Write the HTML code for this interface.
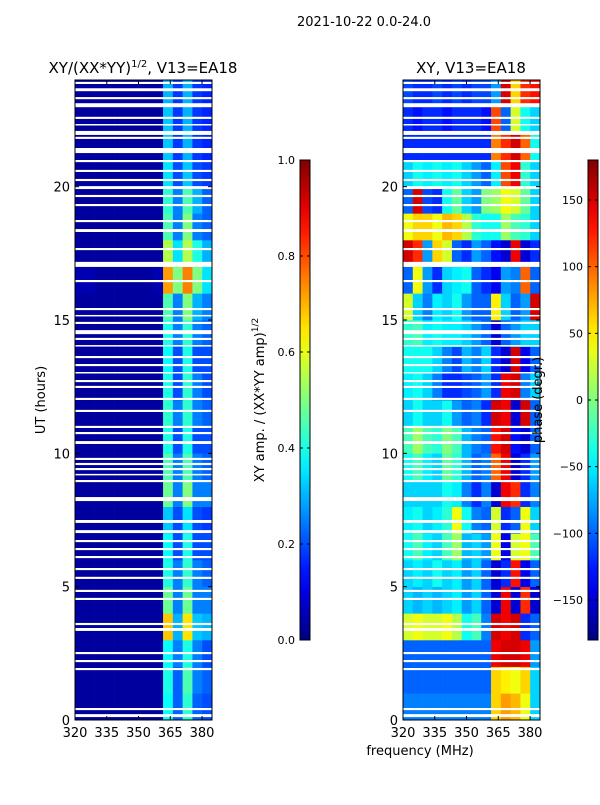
<!DOCTYPE html>
<html><head><meta charset="utf-8"><style>
body{margin:0;background:#fff;width:600px;height:800px;overflow:hidden;font-family:"Liberation Sans","DejaVu Sans",sans-serif}
svg text{font-family:"DejaVu Sans","Liberation Sans",sans-serif;fill:#000}
</style></head><body>
<svg id="fig" width="600" height="800" xmlns="http://www.w3.org/2000/svg">
<text x="364" y="26" font-size="13" text-anchor="middle">2021-10-22 0.0-24.0</text>
<text x="143" y="73" font-size="15" text-anchor="middle">XY/(XX*YY)<tspan font-size="10" dy="-6">1/2</tspan><tspan dy="6">, V13=EA18</tspan></text>
<text x="471" y="73" font-size="15" text-anchor="middle">XY, V13=EA18</text>
<text transform="translate(45,400) rotate(-90)" font-size="13" text-anchor="middle">UT (hours)</text>
<text x="420" y="755" font-size="13" text-anchor="middle">frequency (MHz)</text>
<text transform="translate(264,400) rotate(-90)" font-size="13" text-anchor="middle">XY amp. / (XX*YY amp)<tspan font-size="9" dy="-6">1/2</tspan></text>
<g id="lp"></g>
<g id="rp"></g>
<g id="cb1"></g>
<g id="cb2"></g>
<text transform="translate(542,400) rotate(-90)" font-size="13" text-anchor="middle">phase (degr.)</text>
</svg>
<script>
const freqMin=320, freqMax=384.7, nCols=14;
const xTicks=[320,335,350,365,380];
const yTicks=[0,5,10,15,20];
const ampTicks=[0.0,0.2,0.4,0.6,0.8,1.0];
const phaseTicks=[-150,-100,-50,0,50,100,150];
const D=0.03;
const ampRows=[
[D,D,D,D,D,D,D,D,D,0.38,0.22,0.42,0.22,0.2],
[D,D,D,D,D,D,D,D,D,0.4,0.22,0.45,0.25,0.22],
[D,D,D,D,D,D,D,D,D,0.38,0.25,0.4,0.25,0.2],
[D,D,D,D,D,D,D,D,D,0.68,0.3,0.65,0.32,0.3],
[D,D,D,D,D,D,D,D,D,0.48,0.25,0.48,0.25,0.25],
[D,D,D,D,D,D,D,D,D,0.4,0.25,0.42,0.25,0.22],
[D,D,D,D,D,D,D,D,D,0.38,0.2,0.4,0.2,0.2],
[D,D,D,D,D,D,D,D,D,0.32,0.2,0.35,0.2,0.18],
[D,D,D,D,D,D,D,D,D,0.48,0.25,0.5,0.25,0.25],
[D,D,D,D,D,D,D,D,D,0.45,0.25,0.45,0.25,0.22],
[D,D,D,D,D,D,D,D,D,0.4,0.2,0.4,0.2,0.2],
[D,D,D,D,D,D,D,D,D,0.42,0.25,0.42,0.25,0.22],
[D,D,D,D,D,D,D,D,D,0.4,0.2,0.42,0.25,0.2],
[D,D,D,D,D,D,D,D,D,0.38,0.2,0.4,0.2,0.2],
[D,D,D,D,D,D,D,D,D,0.4,0.25,0.42,0.25,0.22],
[D,D,D,D,D,D,D,D,D,0.45,0.25,0.5,0.3,0.25],
[0.05,0.05,D,D,D,D,D,D,0.05,0.72,0.5,0.75,0.5,0.35],
[D,D,D,D,D,D,D,D,D,0.55,0.35,0.55,0.4,0.3],
[D,D,D,D,D,D,D,D,D,0.45,0.25,0.5,0.25,0.22],
[D,D,D,D,D,D,D,D,D,0.42,0.25,0.45,0.3,0.22],
[D,D,D,D,D,D,D,D,D,0.35,0.2,0.32,0.2,0.18],
[D,D,D,D,D,D,D,D,D,0.32,0.18,0.3,0.18,0.16],
[D,D,D,D,D,D,D,D,D,0.32,0.18,0.3,0.18,0.16],
[D,D,D,D,D,D,D,D,D,0.3,0.18,0.3,0.18,0.16]];
const phaseRows=[
[-90,-90,-90,-90,-90,-90,-90,-90,-90,60,80,70,40,-60],
[-100,-100,-100,-100,-100,-100,-100,-100,-100,60,50,40,60,-60],
[-100,-100,-100,-100,-100,-100,-100,-100,-100,140,150,150,140,-80],
[30,40,30,30,40,20,-40,-20,-90,150,140,150,-120,-100],
[-60,-70,-60,-70,-60,-50,-80,-60,-100,-150,140,-150,120,-150],
[-60,-50,-60,-40,-60,-50,-80,-60,-100,-150,-120,130,-140,-100],
[-40,-20,-50,-60,-20,10,-70,-60,-80,40,-140,30,40,-20],
[-50,-40,-60,-50,-30,40,-40,-90,-100,30,-120,-100,40,-60],
[-60,-60,-60,-60,-40,-50,-90,-120,-90,-150,140,120,-120,-90],
[-40,-20,-50,-60,-10,-30,-70,-100,-90,100,140,-150,-120,-80],
[-20,10,-20,-30,0,-20,-70,-90,-100,130,150,-130,-150,-100],
[-60,-40,-60,-60,-40,-80,-100,-90,-120,150,140,-150,150,-100],
[-50,-40,-60,-90,-120,-120,-110,-100,-80,-120,140,150,-90,-60],
[-40,-40,-40,-60,-90,-110,-70,-90,-60,-120,-150,150,-140,-100],
[-30,-20,-50,-40,-50,-50,-60,-80,-100,-150,-100,-80,-60,-60],
[30,-60,-90,-50,-60,-40,-80,-100,-100,50,-60,-100,-80,150],
[-100,40,-80,-120,-60,-50,-40,-100,-120,-140,-80,-90,100,-100],
[150,120,-80,60,30,-100,-120,-80,-100,-130,-150,140,-150,-120],
[40,60,60,40,70,60,20,-30,-40,-40,10,-20,-30,-60],
[-100,150,-110,-120,-40,-10,-60,-80,0,10,40,30,-10,-60],
[-60,-40,-50,-40,-50,-40,-60,-80,-100,-50,110,140,-30,-60],
[-120,-120,-120,-120,-120,-120,-120,-120,-120,90,120,150,100,-40],
[-120,-130,-120,-120,-130,-120,-120,-120,-130,110,-100,30,-40,-60],
[-110,-120,-120,-110,-120,-110,-120,-110,-110,-80,150,60,120,130]];
const gapHours=[[23.85,.08],[23.58,.11],[23.28,.08],[22.98,.15],[22.54,.08],[22.31,.04],[21.94,.15],[21.79,.08],[21.26,.19],[20.92,.08],[20.55,.08],[20.21,.08],[19.91,.11],[19.61,.08],[19.27,.08],[18.67,.08],[18.30,.11],[17.62,.08],[16.99,.19],[16.42,.08],[15.37,.08],[15.15,.04],[14.85,.08],[14.47,.15],[14.25,.08],[14.02,.04],[13.57,.08],[13.27,.08],[13.01,.04],[12.67,.08],[12.45,.08],[12.0,.08],[11.55,.08],[10.95,.08],[10.72,.08],[10.35,.11],[9.75,.08],[9.56,.08],[9.37,.08],[9.19,.04],[8.92,.08],[8.21,.15],[7.39,.11],[7.01,.11],[6.67,.08],[6.37,.08],[6.07,.08],[5.62,.08],[5.29,.08],[4.80,.08],[4.50,.08],[3.56,.08],[3.34,.11],[2.47,.08],[2.17,.08],[1.87,.08],[0.37,.08],[0.11,.11]];

const NS='http://www.w3.org/2000/svg';
function mk(tag,attrs,parent){const e=document.createElementNS(NS,tag);for(const k in attrs)e.setAttribute(k,attrs[k]);parent.appendChild(e);return e;}
function jet(v){v=Math.max(0,Math.min(1,v));const c=x=>Math.round(255*Math.max(0,Math.min(1,x)));
 const r=c(Math.min(4*v-1.5,-4*v+4.5)),g=c(Math.min(4*v-0.5,-4*v+3.5)),b=c(Math.min(4*v+0.5,-4*v+2.5));return `rgb(${r},${g},${b})`;}
function panel(g,x0,rows,norm,prefix){
 const W=137,H=640,y0=80;
 const xs=f=>x0+(f-freqMin)/(freqMax-freqMin)*W;
 const ys=h=>y0+H-(h/24)*H;
 const cw=(freqMax-freqMin)/nCols, rh=24/rows.length;
 rows.forEach((row,i)=>{row.forEach((v,j)=>{
  const f0=freqMin+j*cw, h0=i*rh;
  const r=mk('rect',{x:xs(f0),y:ys(h0+rh),width:xs(f0+cw)-xs(f0)+0.3,height:ys(h0)-ys(h0+rh)+0.3,fill:jet(norm(v))},g);
  
  
 });});
 gapHours.forEach(gp=>{const r=mk('rect',{x:x0,y:ys(gp[0]+gp[1]),width:W,height:Math.max(1.5,ys(gp[0])-ys(gp[0]+gp[1])),fill:'#fff'},g);
  
  });
 const fr=mk('rect',{x:x0,y:y0,width:W,height:H,fill:'none',stroke:'#000','stroke-width':1},g);
 
 
 xTicks.forEach(t=>{const x=xs(t);mk('line',{x1:x,x2:x,y1:y0+H,y2:y0+H-4,stroke:'#000'},g);mk('line',{x1:x,x2:x,y1:y0,y2:y0+4,stroke:'#000'},g);
  const tx=mk('text',{x:x,y:y0+H+17,'font-size':13,'text-anchor':'middle'},g);tx.textContent=t;
  
  });
 yTicks.forEach(t=>{const y=ys(t);mk('line',{x1:x0,x2:x0+4,y1:y,y2:y,stroke:'#000'},g);mk('line',{x1:x0+W,x2:x0+W-4,y1:y,y2:y,stroke:'#000'},g);
  const tx=mk('text',{x:x0-5,y:y+5,'font-size':13,'text-anchor':'end'},g);tx.textContent=t;
  
  });
}
panel(document.getElementById('lp'),75,ampRows,v=>v,'amp');
panel(document.getElementById('rp'),403,phaseRows,v=>(v+180)/360,'phase');
function colorbar(g,x0,ticks,vmin,vmax,fmt,id){
 const y0=160,H=480,W=10;
 const defs=mk('defs',{},g);const lg=mk('linearGradient',{id:id,x1:0,y1:1,x2:0,y2:0},defs);
 for(let i=0;i<=20;i++)mk('stop',{offset:i/20,'stop-color':jet(i/20)},lg);
 const r=mk('rect',{x:x0,y:y0,width:W,height:H,fill:`url(#${id})`,stroke:'#000','stroke-width':1},g);
 
 
 ticks.forEach(t=>{const y=y0+H-(t-vmin)/(vmax-vmin)*H;mk('line',{x1:x0,x2:x0+3,y1:y,y2:y,stroke:'#000'},g);mk('line',{x1:x0+W,x2:x0+W-3,y1:y,y2:y,stroke:'#000'},g);
  const tx=mk('text',{x:x0-5,y:y+4,'font-size':11,'text-anchor':'end'},g);tx.textContent=fmt(t);
  
  });
}
colorbar(document.getElementById('cb1'),300,ampTicks,0,1,t=>t.toFixed(1),'g1');
colorbar(document.getElementById('cb2'),588,phaseTicks,-180,180,t=>String(t).replace('-','\u2212'),'g2');
</script>
</body></html>
